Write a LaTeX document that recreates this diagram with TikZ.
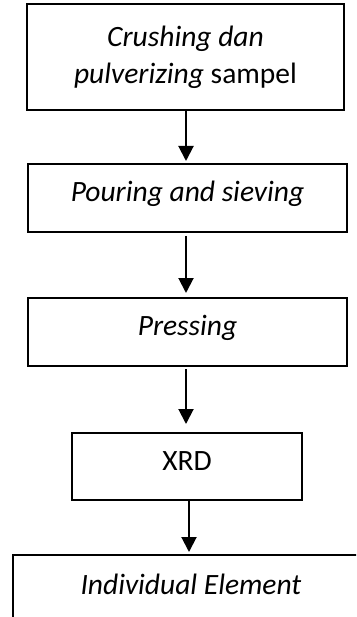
\documentclass[tikz,border=0pt]{standalone}
\usepackage{fontspec}
\setmainfont{Carlito}
\usetikzlibrary{arrows.meta}
\begin{document}
\begin{tikzpicture}[x=1pt,y=-1pt,
  box/.style={draw, line width=2pt, inner sep=0pt,
    font=\fontsize{29.5}{37}\selectfont, text height=20pt, text depth=13pt},
  flow/.style={-{Triangle[width=15pt,length=15pt]}, line width=2pt}]
\useasboundingbox (0,0) rectangle (356,617);
\clip (0,0) rectangle (356,617);
\fill[white] (0,0) rectangle (356,617);

\node[box, minimum width=317pt, minimum height=106pt, align=center,
      text height=, text depth=] (n1) at (185.5,57)
      {\textit{Crushing dan}\\\textit{pulverizing} sampel};
\node[box, minimum width=319pt, minimum height=68pt] (n2) at (187.5,198)
      {\textit{Pouring and sieving}};
\node[box, minimum width=319pt, minimum height=68pt] (n3) at (187.5,332)
      {\textit{Pressing}};
\node[box, minimum width=230pt, minimum height=67pt] (n4) at (187,466.5)
      {XRD};
\node[box, anchor=north, minimum width=356pt, text height=39pt, text depth=30pt]
      (n5) at (191,554) {\textit{Individual Element}};

\coordinate (a1) at ([xshift=0.5pt]n1.south);
\coordinate (a2) at ([xshift=-1.5pt]n2.south);
\coordinate (a3) at ([xshift=-1.5pt]n3.south);
\coordinate (a4) at ([xshift=2pt]n4.south);

\draw[flow, shorten >=2pt] (a1) -- (a1 |- n2.north);
\draw[flow, shorten <=3pt, shorten >=4pt] (a2) -- (a2 |- n3.north);
\draw[flow, shorten <=2pt, shorten >=8pt] (a3) -- (a3 |- n4.north);
\draw[flow, shorten >=2pt] (a4) -- (a4 |- n5.north);
\end{tikzpicture}
\end{document}
